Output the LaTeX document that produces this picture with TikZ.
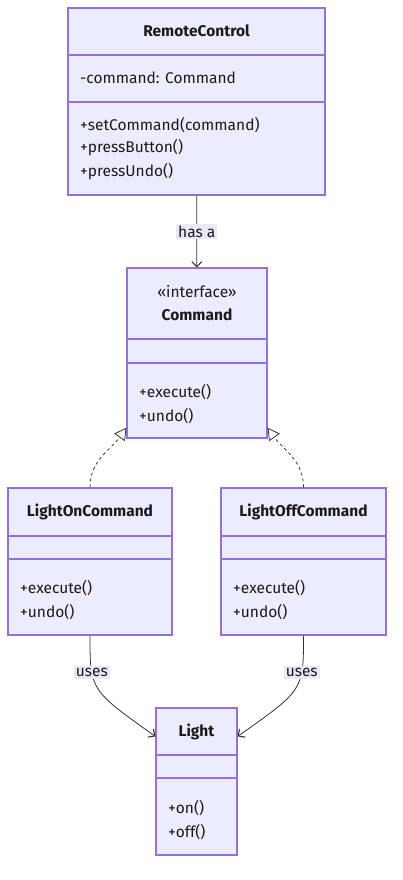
\documentclass[tikz,border=0pt]{standalone}
\usepackage{fontspec}
\setmainfont{Fira Sans}
\usetikzlibrary{arrows.meta, calc}

\definecolor{classfill}{HTML}{ECECFF}
\definecolor{classline}{HTML}{9370DB}
\definecolor{textcol}{HTML}{1A1A1A}
\definecolor{edgecol}{HTML}{333333}
\definecolor{labelfill}{HTML}{E8E8F8}

\begin{document}
\begin{tikzpicture}[x=1pt, y=-1pt,
    every node/.style={font=\fontsize{15.5}{18}\selectfont, text=textcol},
    classbox/.style={draw=classline, fill=classfill, line width=1.2pt, inner sep=0pt},
    divider/.style={draw=classline, line width=1.2pt},
    member/.style={anchor=west, inner sep=0pt},
    classtitle/.style={font=\fontsize{15.5}{18}\selectfont\bfseries, inner sep=0pt},
    edgelabel/.style={fill=labelfill, inner sep=2pt},
    link/.style={draw=edgecol, line width=0.8pt}]

    \useasboundingbox (0,0) rectangle (402,880);

    % === Class boxes ===
    \node[classbox, minimum width=257pt, minimum height=187pt] (remote) at (196.5,101.5) {};
    \node[classbox, minimum width=140pt, minimum height=170pt] (cmd) at (197,353) {};
    \node[classbox, minimum width=164pt, minimum height=147pt] (on) at (90,561.5) {};
    \node[classbox, minimum width=165pt, minimum height=147pt] (off) at (303.5,561.5) {};
    \node[classbox, minimum width=81pt, minimum height=147pt] (light) at (196.5,781.5) {};

    % === Compartment lines ===
    \draw[divider] (remote.west |- 0,55) -- (remote.east |- 0,55);
    \draw[divider] (remote.west |- 0,102) -- (remote.east |- 0,102);
    \draw[divider] (cmd.west |- 0,339) -- (cmd.east |- 0,339);
    \draw[divider] (cmd.west |- 0,363) -- (cmd.east |- 0,363);
    \draw[divider] (on.west |- 0,536) -- (on.east |- 0,536);
    \draw[divider] (on.west |- 0,559) -- (on.east |- 0,559);
    \draw[divider] (off.west |- 0,536) -- (off.east |- 0,536);
    \draw[divider] (off.west |- 0,559) -- (off.east |- 0,559);
    \draw[divider] (light.west |- 0,755) -- (light.east |- 0,755);
    \draw[divider] (light.west |- 0,778) -- (light.east |- 0,778);

    % === RemoteControl ===
    \node[classtitle] (remotetitle) at (196.5,31) {RemoteControl};
    \node[member] (remoteattr) at (80,78) {-command: Command};
    \node[member] (remoteset) at (80,125) {+setCommand(command)};
    \node[member] (remotepress) at (80,148) {+pressButton()};
    \node[member] (remoteundo) at (80,172) {+pressUndo()};

    % === Command (interface) ===
    \node[inner sep=0pt] (cmdstereo) at (197,292) {«interface»};
    \node[classtitle] (cmdtitle) at (197,315) {Command};
    \node[member] (cmdexec) at (139,392) {+execute()};
    \node[member] (cmdundo) at (139,416) {+undo()};

    % === LightOnCommand ===
    \node[classtitle] (ontitle) at (90,512) {LightOnCommand};
    \node[member] (onexec) at (20,588) {+execute()};
    \node[member] (onundo) at (20,612) {+undo()};

    % === LightOffCommand ===
    \node[classtitle] (offtitle) at (303.5,512) {LightOffCommand};
    \node[member] (offexec) at (233,588) {+execute()};
    \node[member] (offundo) at (233,612) {+undo()};

    % === Light ===
    \node[classtitle] (lighttitle) at (196.5,732) {Light};
    \node[member] (lighton) at (168,808) {+on()};
    \node[member] (lightoff) at (168,832) {+off()};

    % === Relations ===
    % association
    \draw[link, -{Straight Barb[length=5pt, width=10pt, line width=1.1pt]}] (remote) -- (cmd)
    node[edgelabel, midway] (hasa) {has a};

    % realization
    \coordinate (cmdleft) at ([yshift=11pt]cmd.south west);
    \coordinate (cmdright) at ([yshift=11pt]cmd.south east);
    \draw[link, dash pattern=on 3pt off 3pt, -{Triangle[open, length=12pt, width=13pt]}]
    (on.north) to[out=90, in=-125] (cmdleft);
    \draw[link, dash pattern=on 3pt off 3pt, -{Triangle[open, length=12pt, width=13pt]}]
    (off.north) to[out=90, in=-55] (cmdright);

    % dependency on Light
    \coordinate (lightleft) at ([yshift=-29pt]light.north west);
    \coordinate (lightright) at ([yshift=-29pt]light.north east);
    \draw[link, -{Straight Barb[length=5pt, width=10pt, line width=1.1pt]}]
    (on.south) .. controls (90,690) .. node[edgelabel, pos=0.3] (useson) {uses} (lightleft);
    \draw[link, -{Straight Barb[length=5pt, width=10pt, line width=1.1pt]}]
    (off.south) .. controls (303.5,690) .. node[edgelabel, pos=0.3] (usesoff) {uses} (lightright);

\end{tikzpicture}
\end{document}
